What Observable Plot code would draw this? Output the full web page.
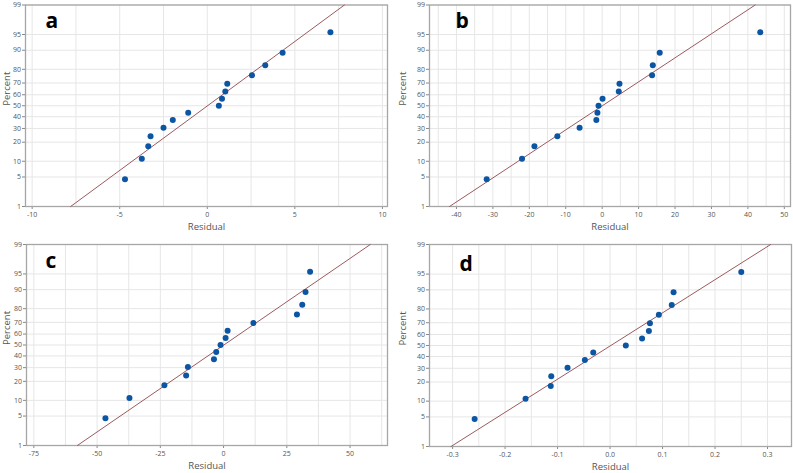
<!DOCTYPE html>
<html>
<head>
<meta charset="utf-8">
<script src="https://cdn.jsdelivr.net/npm/d3@7"></script>
<script src="https://cdn.jsdelivr.net/npm/@observablehq/plot@0.6"></script>
<style>
  html, body { margin: 0; padding: 0; background: #fff; }
  #wrap { position: relative; width: 793px; height: 473px; font-family: "Open Sans", "Noto Sans", sans-serif; }
  .panel { position: absolute; }
</style>
</head>
<body>
<div id="wrap"></div>
<script>
// ---- data ----
const percents = [4.5, 11.0, 17.5, 24.0, 30.5, 37.0, 43.5, 50.0, 56.5, 63.0, 69.5, 76.0, 82.5, 89.0, 95.5];

const residA = [-4.7, -3.74, -3.37, -3.24, -2.5, -1.97, -1.09, 0.66, 0.84, 1.03, 1.14, 2.55, 3.31, 4.30, 7.03];
const residB = [-31.7, -22.0, -18.6, -12.3, -6.2, -1.6, -1.3, -1.0, 0.1, 4.56, 4.75, 13.7, 13.9, 15.8, 43.4];
const residC = [-46.7, -37.2, -23.4, -14.8, -14.1, -3.8, -2.9, -1.2, 0.8, 1.6, 11.8, 29.0, 31.1, 32.4, 34.2];
const residD = [-0.258, -0.161, -0.113, -0.112, -0.081, -0.048, -0.032, 0.030, 0.061, 0.074, 0.076, 0.093, 0.1175, 0.121, 0.250];

// fitted line endpoints (residual at 1% and 99%)
const linePercents = [1, 99];
const lineA = [-7.8, 7.83];
const lineB = [-41.9, 42.0];
const lineC = [-57.8, 58.0];
const lineD = [-0.303, 0.306];

// tick labels
const percentTicks = [1, 5, 10, 20, 30, 40, 50, 60, 70, 80, 90, 95, 99];
const xTicksA = [-10, -5, 0, 5, 10];
const xGridA = [-10, -7.5, -5, -2.5, 0, 2.5, 5, 7.5, 10];
const xTicksB = [-40, -30, -20, -10, 0, 10, 20, 30, 40, 50];
const xGridB = [-45, -40, -35, -30, -25, -20, -15, -10, -5, 0, 5, 10, 15, 20, 25, 30, 35, 40, 45, 50];
const xTicksC = [-75, -50, -25, 0, 25, 50];
const xGridC = [-75, -62.5, -50, -37.5, -25, -12.5, 0, 12.5, 25, 37.5, 50, 62.5];
const xTicksD = [-0.3, -0.2, -0.1, 0.0, 0.1, 0.2, 0.3];
const xGridD = [-0.3, -0.25, -0.2, -0.15, -0.1, -0.05, 0, 0.05, 0.1, 0.15, 0.2, 0.25, 0.3];

const letters = ["a", "b", "c", "d"];

// ---- inverse normal CDF (Acklam) ----
function probit(p) {
  const a = [-3.969683028665376e+01, 2.209460984245205e+02, -2.759285104469687e+02, 1.383577518672690e+02, -3.066479806614716e+01, 2.506628277459239e+00];
  const b = [-5.447609879822406e+01, 1.615858368580409e+02, -1.556989798598866e+02, 6.680131188771972e+01, -1.328068155288572e+01];
  const c = [-7.784894002430293e-03, -3.223964580411365e-01, -2.400758277161838e+00, -2.549732539343734e+00, 4.374664141464968e+00, 2.938163982698783e+00];
  const d = [7.784695709041462e-03, 3.224671290700398e-01, 2.445134137142996e+00, 3.754408661907416e+00];
  const plow = 0.02425, phigh = 1 - plow;
  let q, r;
  if (p < plow) {
    q = Math.sqrt(-2 * Math.log(p));
    return (((((c[0]*q+c[1])*q+c[2])*q+c[3])*q+c[4])*q+c[5]) / ((((d[0]*q+d[1])*q+d[2])*q+d[3])*q+1);
  } else if (p <= phigh) {
    q = p - 0.5; r = q * q;
    return (((((a[0]*r+a[1])*r+a[2])*r+a[3])*r+a[4])*r+a[5])*q / (((((b[0]*r+b[1])*r+b[2])*r+b[3])*r+b[4])*r+1);
  } else {
    q = Math.sqrt(-2 * Math.log(1 - p));
    return -(((((c[0]*q+c[1])*q+c[2])*q+c[3])*q+c[4])*q+c[5]) / ((((d[0]*q+d[1])*q+d[2])*q+d[3])*q+1);
  }
}

const zTicks = percentTicks.map(p => probit(p / 100));
const zLabel = z => String(percentTicks[zTicks.indexOf(z)]);

const panels = [
  {resid: residA, line: lineA, ticks: xTicksA, grid: xGridA, fmt: d => String(d), domain: [-10.38, 10.29],
   left: 0, top: 0, w: 396, h: 236, m: [4.5, 9, 30, 25], letterDx: 20, letterDy: 23},
  {resid: residB, line: lineB, ticks: xTicksB, grid: xGridB, fmt: d => String(d), domain: [-47.4, 51.7],
   left: 396, top: 0, w: 397, h: 236, m: [4.5, 3, 30, 33], letterDx: 26, letterDy: 23},
  {resid: residC, line: lineC, ticks: xTicksC, grid: xGridC, fmt: d => String(d), domain: [-77.9, 64.8],
   left: 0, top: 236, w: 396, h: 237, m: [8, 9, 28, 26], letterDx: 19, letterDy: 23},
  {resid: residD, line: lineD, ticks: xTicksD, grid: xGridD, fmt: d => d.toFixed(1), domain: [-0.344, 0.3457],
   left: 396, top: 236, w: 397, h: 237, m: [8, 2, 27, 33], letterDx: 30, letterDy: 26}
];

const wrap = document.getElementById("wrap");
panels.forEach((p, k) => {
  const pts = p.resid.map((r, i) => ({r, z: probit(percents[i] / 100)}));
  const ln = p.line.map((r, i) => ({r, z: probit(linePercents[i] / 100)}));
  const chart = Plot.plot({
    width: p.w, height: p.h,
    marginTop: p.m[0], marginRight: p.m[1], marginBottom: p.m[2], marginLeft: p.m[3],
    style: {fontFamily: '"Open Sans", "Noto Sans", sans-serif', fontSize: "7px", color: "#555", background: "#fff", overflow: "visible"},
    x: {domain: p.domain},
    y: {domain: [zTicks[0], zTicks[zTicks.length - 1]]},
    marks: [
      Plot.gridX(p.grid, {stroke: "#e6e6e6", strokeOpacity: 1}),
      Plot.gridY(zTicks, {stroke: "#e6e6e6", strokeOpacity: 1}),
      Plot.axisX(p.ticks, {tickSize: 3, tickPadding: 2.5, tickFormat: p.fmt, label: null, stroke: "#888"}),
      Plot.axisY(zTicks, {tickSize: 3, tickPadding: 1.5, tickFormat: zLabel, label: null, stroke: "#888"}),
      Plot.frame({stroke: "#a6a6a6", strokeWidth: 1.3}),
      Plot.line(ln, {x: "r", y: "z", stroke: "#9c5a5e", strokeWidth: 1}),
      Plot.dot(pts, {x: "r", y: "z", r: 3, fill: "#0c55a3", stroke: "none"}),
      Plot.text(["Residual"], {frameAnchor: "bottom", dy: 23, fontSize: 9.5, fill: "#555"}),
      Plot.text(["Percent"], {frameAnchor: "left", rotate: -90, dx: -(p.m[3] - 6), fontSize: 9.5, fill: "#555"}),
      Plot.text([letters[k]], {frameAnchor: "top-left", textAnchor: "start", lineAnchor: "bottom", dx: p.letterDx, dy: p.letterDy, fontSize: 21, fontWeight: "bold", fill: "#000", fontFamily: '"Open Sans", sans-serif'})
    ]
  });
  const div = document.createElement("div");
  div.className = "panel";
  div.style.left = p.left + "px";
  div.style.top = p.top + "px";
  div.appendChild(chart);
  wrap.appendChild(div);
});
</script>
</body>
</html>
